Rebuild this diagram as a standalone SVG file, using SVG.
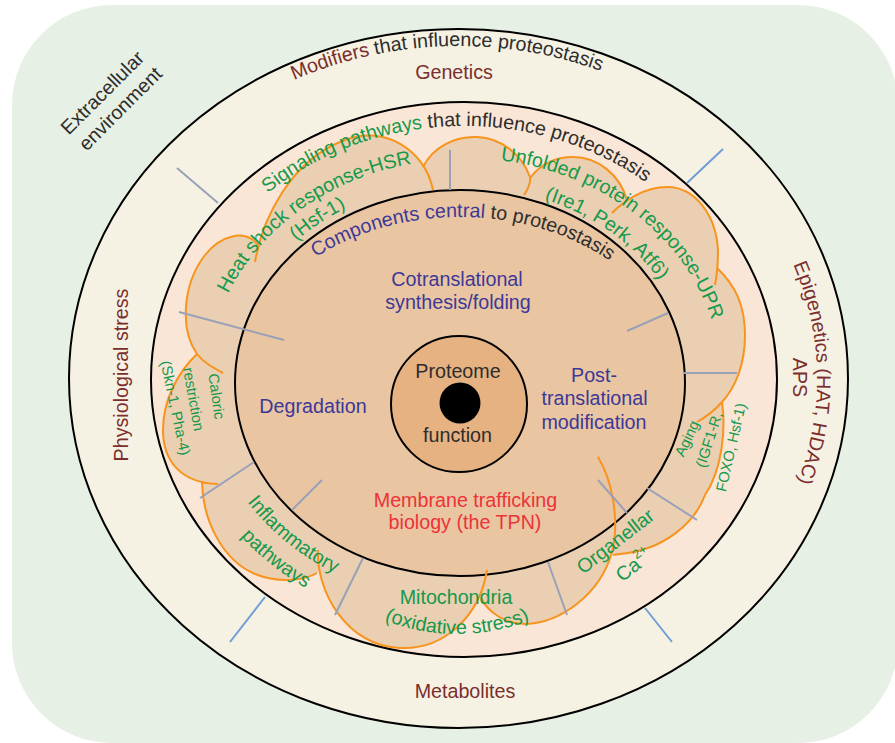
<svg xmlns="http://www.w3.org/2000/svg" width="895" height="743" viewBox="0 0 895 743">
<defs>
<style>
text{font-family:"Liberation Sans",Arial,sans-serif;font-size:19.7px}
.mr{fill:#7b2e2d}
.dk{fill:#2d2d2d}
.gr{fill:#15994b}
.pu{fill:#3d3897}
.rd{fill:#ec3338}
.sm{font-size:14.8px}
.lobe{fill:#ebcfb2}
.arc{fill:none;stroke:#f7941d;stroke-width:2}
.gl{stroke:#98a1b8;stroke-width:2}
.bl{stroke:#6f9dd8;stroke-width:2}
.ring{stroke:#000;stroke-width:2}
</style>
<path id="pMod" d="M129.6,222.4 A372.5,332.5 0 0 1 774.4,202.3"/>
<path id="pSig" d="M208.8,260.5 A289,253.5 0 0 1 709.1,245.2"/>
<path id="pComp" d="M270.6,297.5 A221,166 0 0 1 653.3,302.5"/>
<path id="pHsr" d="M211.7,342.3 A256,220.5 0 0 1 462.7,159.0"/>
<path id="pHsf" d="M245.5,308.4 A234,198.5 0 0 1 427.4,183.4"/>
<path id="pUpr" d="M472.1,158.1 A257,221.5 0 0 1 718.4,347.9"/>
<path id="pIre" d="M505.6,190.2 A228,192.5 0 0 1 678.9,315.2"/>
<path id="pEpi" d="M729.1,169.5 A358.5,318.5 0 0 1 737.1,578.9"/>
<path id="pOx" d="M283.8,534 A200,200 0 0 0 630.2,534"/>
<path id="pInf" d="M206.0,399.4 A259,223.5 0 0 0 441.9,602.2"/>
<path id="pPath" d="M179.6,406.1 A286,250.5 0 0 0 444.5,629.4"/>
</defs>

<rect id="background" x="12" y="5" width="886" height="738" rx="100" ry="100" fill="#e7f0e4"/>

<g id="modifiers-ring">
<ellipse cx="458.5" cy="378.5" rx="389.5" ry="349.5" fill="#f6f2e3" class="ring"/>
</g>
<g id="signaling-ring">
<ellipse cx="464" cy="379.5" rx="313" ry="277.5" fill="#f9e6d6" class="ring"/>
</g>

<g id="lobe-fills" class="lobe">
<path d="M223,373 C212,367 203,362 197,354 C180,330 182,285 205,255 C220,236 245,228 258,245 L460,383 Z"/>
<path d="M255,262 C262,220 290,160 345,140 C385,125 425,150 433,190 L460,383 Z"/>
<path d="M423,167 C433,147 455,136 477,137 C502,138 522,155 530,177 C531,183 528,189 524,195 L460,383 Z"/>
<path d="M530,178 C540,165 555,157 573,157 C598,157 620,175 627,200 L460,383 Z"/>
<path d="M612,213 C625,200 645,187 667,187 C695,187 716,215 718,250 C718,262 717,275 715,285 L460,383 Z"/>
<path d="M717,268 C735,285 745,305 745,335 C745,365 735,388 722,402 C715,410 706,417 697,422 L460,383 Z"/>
<path d="M722,402 C726,430 722,470 705,495 C695,522 665,550 620,554 L613,555 L460,383 Z"/>
<path d="M598,457 C612,480 620,520 612,552 C600,595 560,623 525,624 C505,624 488,612 481,598 L460,383 Z"/>
<path d="M318,550 C316,590 345,645 400,648 C445,650 480,615 487,570 L460,383 Z"/>
<path d="M202,483 C203,520 222,560 255,574 C280,584 305,580 317,573 L460,383 Z"/>
<path d="M197,354 C178,372 163,400 163,430 C163,460 180,483 218,484 L460,383 Z"/>
</g>

<g id="components">
<ellipse cx="460" cy="383" rx="225" ry="193" fill="#e9c5a2" class="ring"/>
</g>

<g id="connectors">
<g class="arc">
<path d="M223,373 C212,367 203,362 197,354 C180,330 182,285 205,255 C220,236 245,228 258,245"/>
<path d="M255,262 C262,220 290,160 345,140 C385,125 425,150 433,190"/>
<path d="M423,167 C433,147 455,136 477,137 C502,138 522,155 530,177 C531,183 528,189 524,195"/>
<path d="M530,178 C540,165 555,157 573,157 C598,157 620,175 627,200"/>
<path d="M612,213 C625,200 645,187 667,187 C695,187 716,215 718,250 C718,262 717,275 715,285"/>
<path d="M717,268 C735,285 745,305 745,335 C745,365 735,388 722,402 C715,410 706,417 697,422"/>
<path d="M722,402 C726,430 722,470 705,495 C695,522 665,550 620,554 L613,555"/>
<path d="M598,457 C612,480 620,520 612,552 C600,595 560,623 525,624 C505,624 488,612 481,598"/>
<path d="M318,550 C316,590 345,645 400,648 C445,650 480,615 487,570"/>
<path d="M202,483 C203,520 222,560 255,574 C280,584 305,580 317,573"/>
<path d="M197,354 C178,372 163,400 163,430 C163,460 180,483 218,484"/>
</g>
<g class="gl">
<line x1="177" y1="168" x2="218" y2="203"/>
<line x1="450" y1="150" x2="450" y2="190"/>
<line x1="627" y1="331" x2="668" y2="313"/>
<line x1="683" y1="373" x2="737" y2="373"/>
<line x1="179" y1="312" x2="284" y2="340"/>
<line x1="200" y1="498" x2="254" y2="462"/>
<line x1="292" y1="510" x2="322" y2="480"/>
<line x1="335" y1="615" x2="363" y2="558"/>
<line x1="548" y1="562" x2="567" y2="615"/>
<line x1="598" y1="480" x2="627" y2="513"/>
<line x1="647" y1="488" x2="697" y2="520"/>
</g>
<g class="bl">
<line x1="687" y1="183" x2="723" y2="149"/>
<line x1="265" y1="597" x2="230" y2="642"/>
<line x1="645" y1="608" x2="672" y2="642"/>
</g>
</g>

<g id="proteome">
<circle cx="459" cy="404" r="68" fill="#e6b282" stroke="#000" stroke-width="2"/>
<circle cx="460" cy="403" r="20.5" fill="#000"/>
<text x="458" y="378" text-anchor="middle" class="dk">Proteome</text>
<text x="457.5" y="441.5" text-anchor="middle" class="dk">function</text>
</g>

<g id="outer-labels">
<text transform="translate(107,97.5) rotate(-45)" text-anchor="middle" class="dk"><tspan x="0" y="0">Extracellular</tspan><tspan x="1.4" y="24">environment</tspan></text>
<text><textPath href="#pMod" startOffset="50%" text-anchor="middle"><tspan class="mr">Modifiers</tspan><tspan class="dk"> that influence proteostasis</tspan></textPath></text>
<text x="454" y="79" text-anchor="middle" class="mr">Genetics</text>
<text class="mr"><textPath href="#pEpi" startOffset="50%" text-anchor="middle">Epigenetics (HAT, HDAC)</textPath></text>
<text transform="translate(792.6,377.5) rotate(90)" text-anchor="middle" class="mr">APS</text>
<text transform="translate(127.5,375) rotate(-90)" text-anchor="middle" class="mr">Physiological stress</text>
<text x="465" y="698" text-anchor="middle" class="mr">Metabolites</text>
</g>

<g id="signaling-labels">
<text><textPath href="#pSig" startOffset="50%" text-anchor="middle"><tspan class="gr">Signaling pathways</tspan><tspan class="dk"> that influence proteostasis</tspan></textPath></text>
<text class="gr"><textPath href="#pHsr" startOffset="50%" text-anchor="middle">Heat shock response-HSR</textPath></text>
<text class="gr"><textPath href="#pHsf" startOffset="50%" text-anchor="middle">(Hsf-1)</textPath></text>
<text class="gr"><textPath href="#pUpr" startOffset="50%" text-anchor="middle">Unfolded protein response-UPR</textPath></text>
<text class="gr"><textPath href="#pIre" startOffset="50%" text-anchor="middle">(Ire1, Perk, Atf6)</textPath></text>
<text class="gr sm" transform="translate(211.5,397) rotate(82)" text-anchor="middle">Caloric</text>
<text class="gr sm" transform="translate(188.5,400) rotate(80)" text-anchor="middle">restriction</text>
<text class="gr sm" transform="translate(170.5,409) rotate(78)" text-anchor="middle">(Skn-1, Pha-4)</text>
<text class="gr sm" transform="translate(691.6,440.7) rotate(-65)" text-anchor="middle">Aging</text>
<text class="gr sm" transform="translate(713.8,441.2) rotate(-72)" text-anchor="middle">(IGF1-R,</text>
<text class="gr sm" transform="translate(735.9,448.4) rotate(-77)" text-anchor="middle">FOXO, Hsf-1)</text>
<text class="gr"><textPath href="#pInf" startOffset="50%" text-anchor="middle">Inflammatory</textPath></text>
<text class="gr"><textPath href="#pPath" startOffset="50%" text-anchor="middle">pathways</textPath></text>
<text x="456" y="604" text-anchor="middle" class="gr">Mitochondria</text>
<text class="gr"><textPath href="#pOx" startOffset="50%" text-anchor="middle">(oxidative stress)</textPath></text>
<text transform="translate(619.5,546.5) rotate(-38)" text-anchor="middle" class="gr"><tspan x="0" y="0">Organellar</tspan><tspan x="0" y="30">Ca</tspan><tspan font-size="13" dy="-9">2+</tspan></text>
</g>

<g id="component-labels">
<text><textPath href="#pComp" startOffset="50%" text-anchor="middle"><tspan class="pu">Components central</tspan><tspan class="dk"> to proteostasis</tspan></textPath></text>
<text x="457" y="286" text-anchor="middle" class="pu">Cotranslational</text>
<text x="458" y="309" text-anchor="middle" class="pu">synthesis/folding</text>
<text x="313" y="413" text-anchor="middle" class="pu">Degradation</text>
<text text-anchor="middle" class="pu"><tspan x="594" y="381.7">Post-</tspan><tspan x="594.5" y="405">translational</tspan><tspan x="594" y="429">modification</tspan></text>
<text text-anchor="middle" class="rd"><tspan x="465.5" y="506.5">Membrane trafficking</tspan><tspan x="465" y="529">biology (the TPN)</tspan></text>
</g>
</svg>
